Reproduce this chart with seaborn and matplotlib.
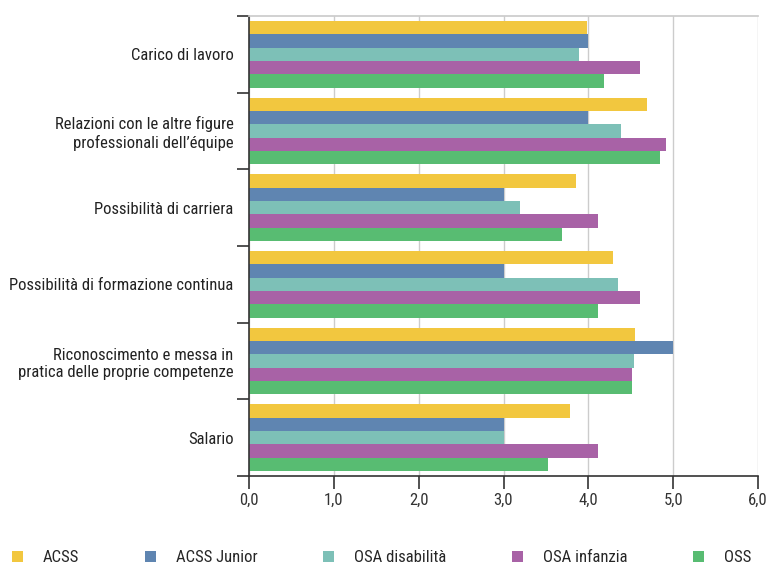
import numpy as np
import pandas as pd
import seaborn as sns
import matplotlib
matplotlib.use("Agg")
import matplotlib.pyplot as plt
from matplotlib import font_manager
from matplotlib.patches import Patch

categories = [
    "Carico di lavoro",
    "Relazioni con le altre figure\nprofessionali dell\u2019équipe",
    "Possibilità di carriera",
    "Possibilità di formazione continua",
    "Riconoscimento e messa in\npratica delle proprie competenze",
    "Salario",
]
series = ["ACSS", "ACSS Junior", "OSA disabilità", "OSA infanzia", "OSS"]
acss = [3.98, 4.69, 3.86, 4.29, 4.55, 3.78]
acss_junior = [4.0, 4.0, 3.0, 3.0, 5.0, 3.0]
osa_disabilita = [3.89, 4.39, 3.2, 4.35, 4.54, 3.0]
osa_infanzia = [4.61, 4.91, 4.11, 4.61, 4.51, 4.11]
oss = [4.19, 4.85, 3.69, 4.11, 4.51, 3.52]
colors = ["#F2C73F", "#5F85B1", "#7DC0B7", "#A862A6", "#58BC72"]
x_ticks = [0, 1, 2, 3, 4, 5, 6]
x_labels = ["0,0", "1,0", "2,0", "3,0", "4,0", "5,0", "6,0"]

sns.set_theme(style="white")

# prefer a narrow face for the labels
fonts = font_manager.fontManager.ttflist
names = {f.name for f in fonts}
narrow = None
for cand in ["Liberation Sans Narrow", "Roboto Condensed", "Open Sans Condensed", "Arial Narrow"]:
    if cand in names:
        narrow = cand
        break
if narrow is not None:
    plt.rcParams["font.family"] = [narrow, "DejaVu Sans"]
    fsize = 12
else:
    cond = [f for f in fonts if f.name == "DejaVu Sans" and f.stretch in ("condensed", 87.5, "semi-condensed")]
    plt.rcParams["font.family"] = ["DejaVu Sans"]
    if cond:
        plt.rcParams["font.stretch"] = "condensed"
        fsize = 10.5
    else:
        fsize = 9.5

values = [acss, acss_junior, osa_disabilita, osa_infanzia, oss]
df = pd.DataFrame({
    "categoria": np.repeat([categories], len(series), axis=0).ravel(),
    "gruppo": np.repeat(series, len(categories)),
    "valore": np.concatenate(values),
})

fig = plt.figure(figsize=(7.68, 5.66), dpi=100)
ax = fig.add_axes([249 / 768, 1 - 476 / 566, 509 / 768, 460 / 566])

sns.barplot(data=df, y="categoria", x="valore", hue="gruppo", order=categories,
            hue_order=series, palette=colors, orient="h", width=0.87,
            saturation=1, ax=ax, legend=False, linewidth=0)

ax.set_xlim(0, 6)
ax.set_ylim(len(categories) - 0.5, -0.5)
ax.set_xticks(x_ticks)
ax.set_xticklabels(x_labels, fontsize=fsize, color="#333333")
ax.xaxis.grid(True, color="#cccccc", linewidth=1)
ax.set_axisbelow(True)

ax.set_yticks(np.arange(-0.5, len(categories)), minor=False)
ax.set_yticklabels([""] * (len(categories) + 1))
ax.set_yticks(np.arange(len(categories)), minor=True)
ax.set_yticklabels(categories, minor=True, fontsize=fsize, color="#222222")
ax.tick_params(axis="y", which="major", length=9, width=1.2, color="#333333", direction="out", left=True)
ax.tick_params(axis="y", which="minor", length=0, pad=11)
ax.tick_params(axis="x", which="major", length=9, width=1.2, color="#333333", direction="out", bottom=True, pad=3)
ax.set_xlabel("")
ax.set_ylabel("")

for side in ["left", "bottom"]:
    ax.spines[side].set_color("#333333")
    ax.spines[side].set_linewidth(1.2)
ax.spines["top"].set_color("#cccccc")
ax.spines["right"].set_visible(False)

handles = [Patch(facecolor=c, edgecolor="none") for c in colors]
fig.legend(handles, series, loc="center left", bbox_to_anchor=(0.0156, 1 - 557.5 / 566),
           ncol=5, frameon=False, fontsize=fsize, handlelength=0.65, handleheight=0.65,
           handletextpad=1.2, columnspacing=3.95, borderaxespad=0, borderpad=0)

fig.savefig("out.png", dpi=100)
